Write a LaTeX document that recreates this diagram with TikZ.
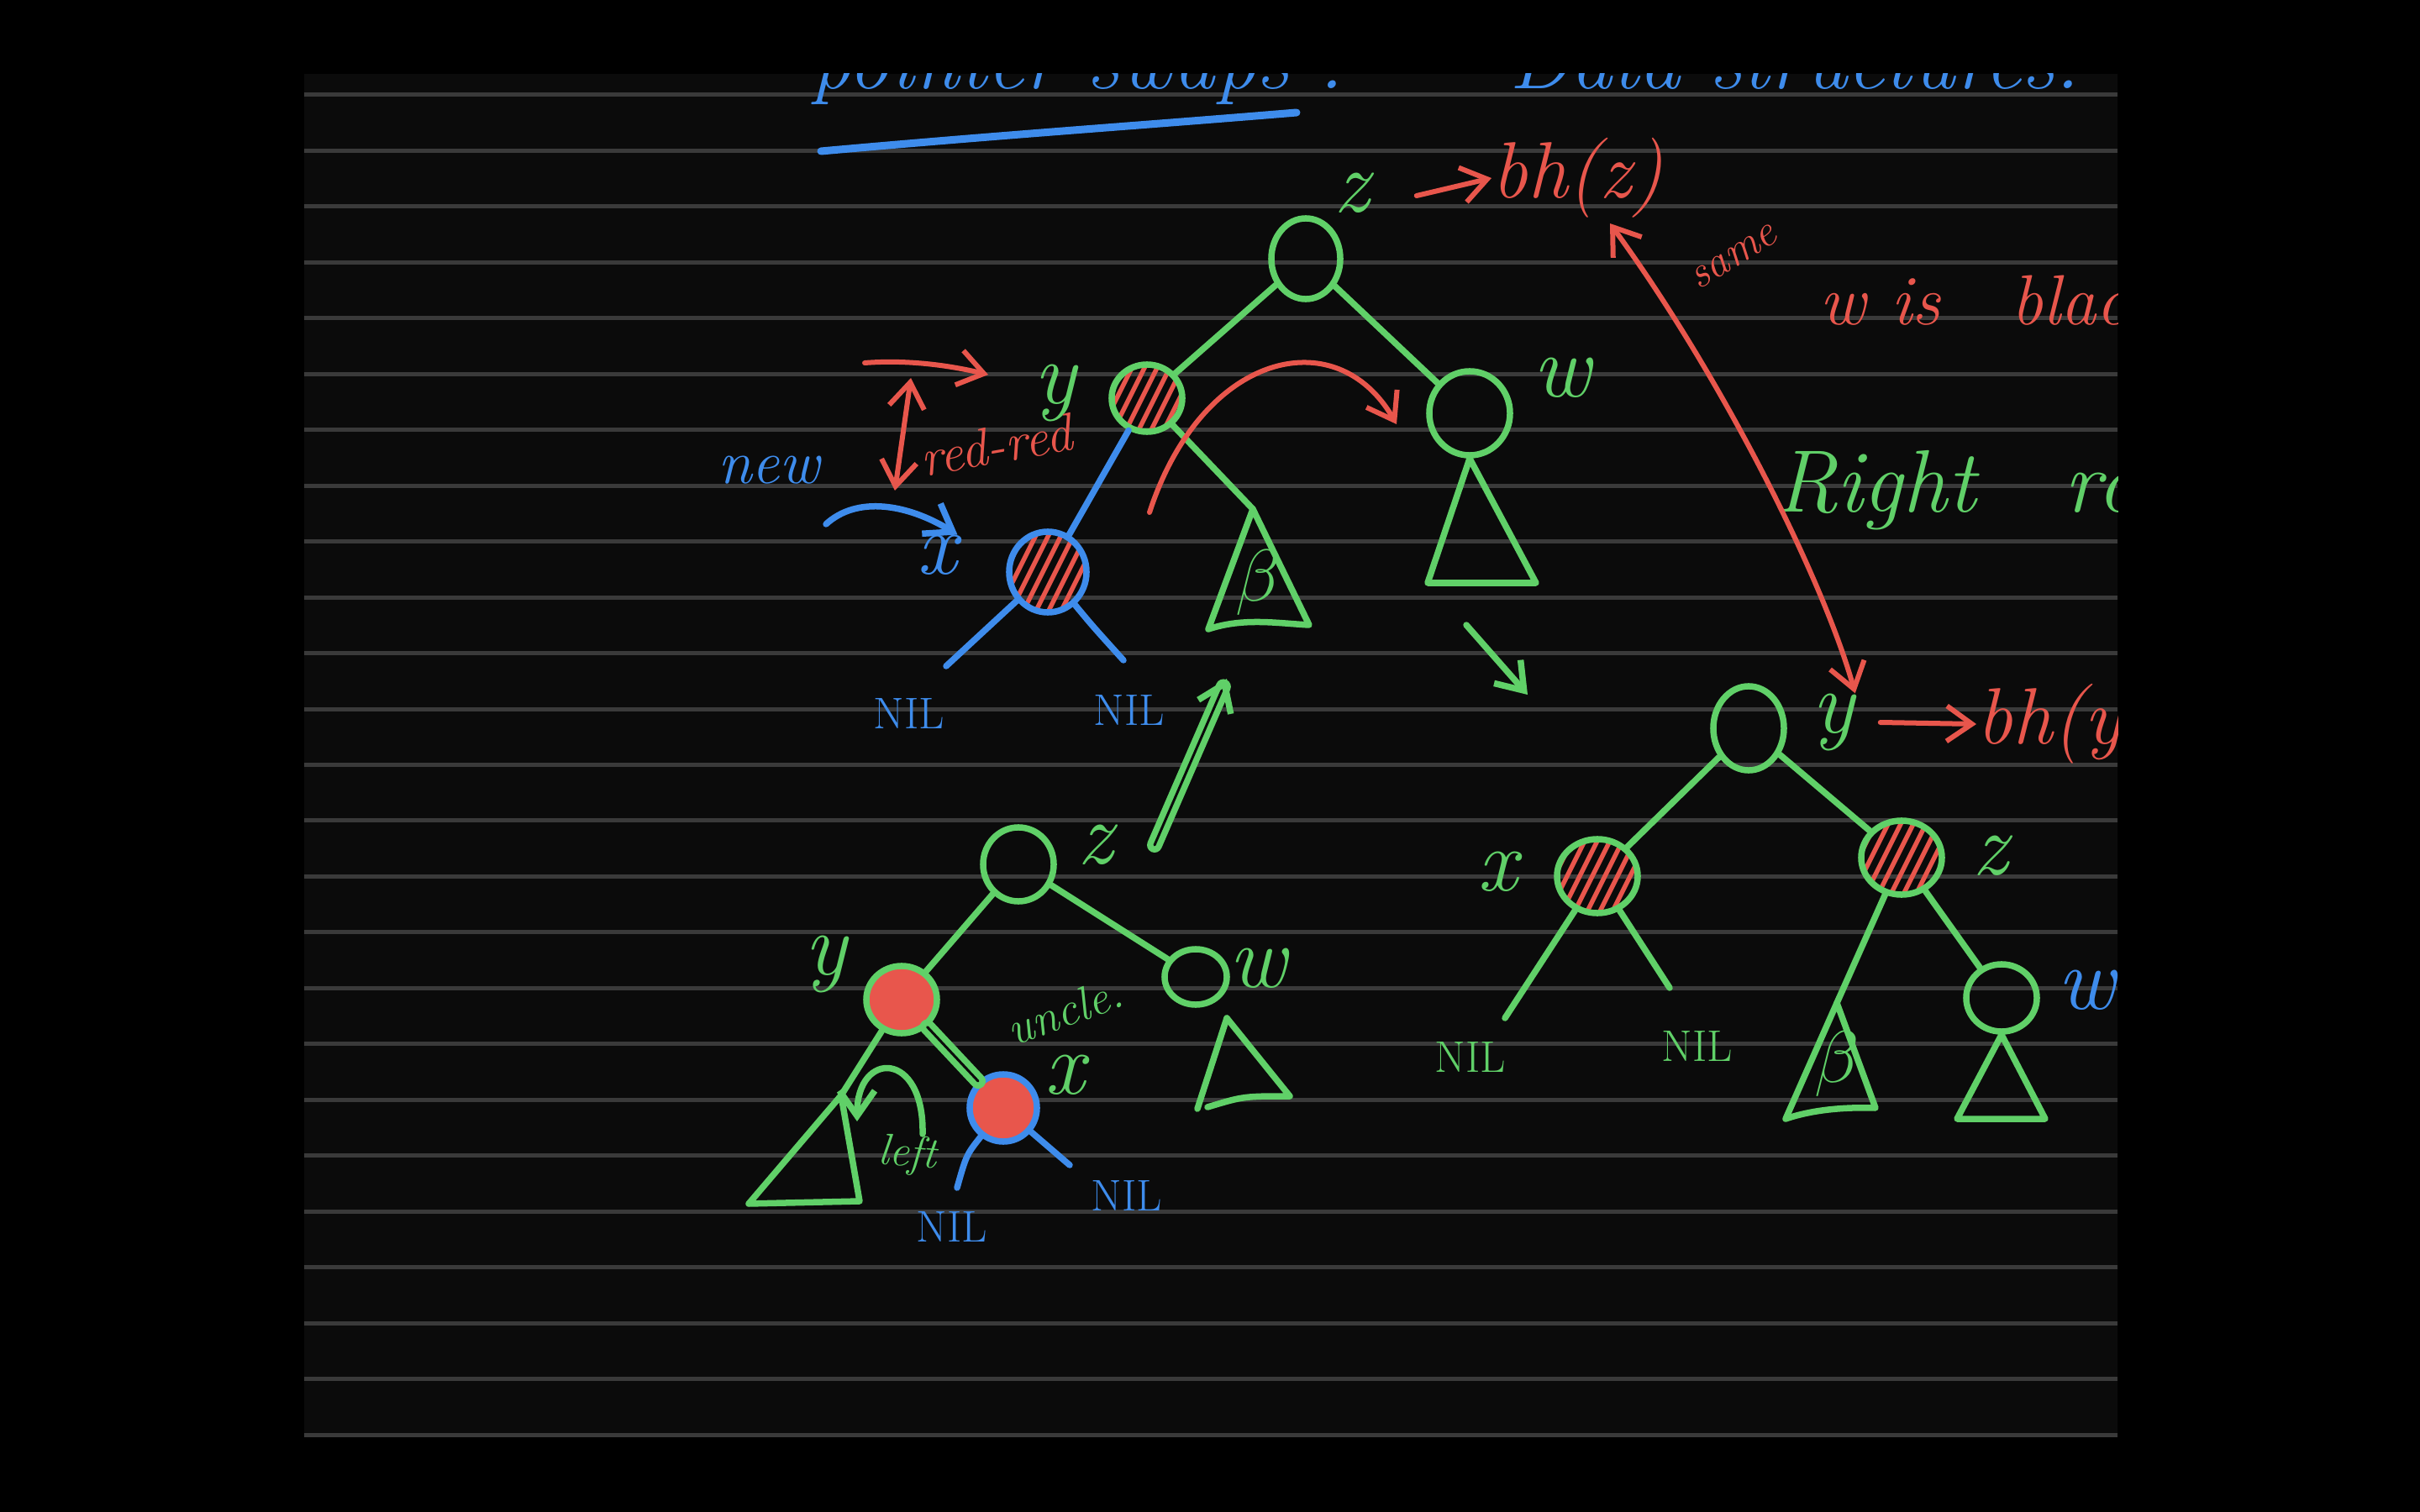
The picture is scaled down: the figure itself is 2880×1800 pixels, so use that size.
\documentclass[tikz,border=0pt]{standalone}
\usetikzlibrary{shapes.geometric,arrows.meta}
\definecolor{hwgreen}{RGB}{96,208,104}
\definecolor{hwred}{RGB}{232,86,76}
\definecolor{hwblue}{RGB}{62,140,236}
\definecolor{pagebg}{RGB}{11,11,11}
\definecolor{ruleline}{RGB}{58,58,58}
\tikzset{
 pen/.style={line width=0.075cm,line cap=round,line join=round},
 gline/.style={pen,draw=hwgreen},
 rline/.style={pen,draw=hwred,line width=0.06cm},
 bline/.style={pen,draw=hwblue},
 arr/.style={-{Straight Barb[length=0.3cm,width=0.42cm]}},
 darr/.style={{Straight Barb[length=0.3cm,width=0.42cm]}-{Straight Barb[length=0.3cm,width=0.42cm]}},
 tnode/.style={ellipse,pen,draw=hwgreen,inner sep=0pt},
 hatched/.style={path picture={
   \coordinate (hc) at (path picture bounding box.center);
   \foreach \k in {-66,-51,...,66}{\draw[draw=hwred,line width=0.055cm] (hc) ++(\k+30,-60) -- ++(-60,120);}
 }},
 lbl/.style={inner sep=0pt,font=\fontsize{30}{30}\selectfont\itshape},
 nil/.style={inner sep=0pt,font=\fontsize{15}{15}\selectfont},
 note/.style={inner sep=0pt,font=\fontsize{#1}{#1}\selectfont\itshape},
}
\begin{document}
\begin{tikzpicture}[x=0.01cm,y=-0.01cm]
\useasboundingbox (0,0) rectangle (2880,1800);
\fill[black] (0,0) rectangle (2880,1800);
\fill[pagebg] (362,88) rectangle (2520,1710);
\foreach \i in {0,...,24}{\draw[ruleline,line width=0.05cm] (362,{113+\i*66.46}) -- (2520,{113+\i*66.46});}
\begin{scope}
\clip (362,88) rectangle (2520,1710);
% title (cut off by the page top)
\node[anchor=base west,text=hwblue,note=28] (title1) at (964,106) {pointer swaps :};
\node[anchor=base west,text=hwblue,note=28] (title2) at (1796,106) {Data structures.};
\draw[bline,line width=0.09cm] (977,180) .. controls (1200,160) and (1350,150) .. (1543,134);

% ===== tree 1 =====
\node[tnode,minimum width=0.82cm,minimum height=0.96cm] (z1) at (1554,308) {};
\node[tnode,hatched,minimum width=0.84cm,minimum height=0.8cm] (y1) at (1365,474) {};
\node[tnode,minimum width=0.96cm,minimum height=1.0cm] (w1) at (1749,492) {};
\node[tnode,draw=hwblue,hatched,minimum width=0.92cm,minimum height=0.96cm] (x1) at (1247,681) {};
\node[lbl,text=hwgreen] (z1l) at (1609,230) {z};
\node[lbl,text=hwgreen] (y1l) at (1256,468) {y};
\node[lbl,text=hwgreen] (w1l) at (1859,450) {w};
\node[lbl,text=hwblue] (x1l) at (1115,661) {x};
\node[note=21,text=hwblue] (new) at (915,560) {new};
\draw[gline] (z1) -- (y1);
\draw[gline] (z1) -- (w1);
\draw[bline] (y1) -- (x1);
\coordinate (b1a) at (1491,606);
\draw[gline] (y1) -- (b1a);
\draw[gline] (b1a) -- (1438,749) .. controls (1480,735) and (1520,742) .. (1558,744) -- cycle;
\node[note=24,text=hwgreen] (b1l) at (1497,694) {$\beta$};
\draw[gline] (w1.south) -- (1699,694) -- (1828,694) -- cycle;
\coordinate (n1a) at (1126,793);
\coordinate (n1b) at (1337,786);
\draw[bline] (x1) -- (n1a);
\draw[bline] (x1) .. controls (1300,745) .. (n1b);
\node[nil,text=hwblue] (nil1a) at (1082,849) {NIL};
\node[nil,text=hwblue] (nil1b) at (1344,845) {NIL};
% annotations tree 1
\coordinate (ra1) at (1029,432);
\coordinate (ra2) at (1176,446);
\draw[rline,arr] (ra1) .. controls (1080,428) and (1130,435) .. (ra2);
\coordinate (rd1) at (1084,450);
\coordinate (rd2) at (1065,584);
\draw[rline,darr] (rd1) -- (rd2);
\node[note=18,text=hwred,rotate=10] (redred) at (1185,530) {red-red};
\coordinate (na1) at (983,624);
\draw[bline,arr] (na1) .. controls (1020,590) and (1080,600) .. (x1l.north east);
\coordinate (rc1) at (1368,610);
\draw[rline,arr] (rc1) .. controls (1430,420) and (1590,380) .. (1662,505);
\node[note=27,text=hwred,anchor=west] (bhz) at (1775,212) {bh(z)};
\draw[rline,arr] (z1l.east) ++(55,3) coordinate (bz0) (bz0) -- (bhz.west);

% ===== arrows between trees =====
\coordinate (ga1) at (1745,744);
\coordinate (ga2) at (1818,827);
\draw[gline,arr] (ga1) -- (ga2);
\coordinate (gu1) at (1374,1006);
\coordinate (gu2) at (1460,808);
\draw[gline,arr,double=pagebg,double distance=0.03cm] (gu1) -- (gu2);

% ===== right notes =====
\node[note=24,text=hwred,anchor=west] (wblack) at (2165,358) {w is\quad black};
\node[note=15,text=hwred,rotate=32] (same) at (2064,306) {same};
\node[note=30,text=hwgreen,anchor=west] (rrot) at (2112,584) {Right\quad rotation};

% ===== tree 3 (bottom right) =====
\node[tnode,minimum width=0.84cm,minimum height=1.0cm] (y3) at (2081,867) {};
\node[tnode,hatched,minimum width=0.96cm,minimum height=0.88cm] (x3) at (1901,1043) {};
\node[tnode,hatched,minimum width=0.96cm,minimum height=0.88cm] (z3) at (2263,1021) {};
\node[tnode,minimum width=0.84cm,minimum height=0.8cm] (w3) at (2382,1188) {};
\node[lbl,text=hwgreen] (y3l) at (2182,860) {y};
\node[lbl,text=hwgreen] (x3l) at (1782,1038) {x};
\node[lbl,text=hwgreen] (z3l) at (2369,1019) {z};
\node[lbl,text=hwblue] (w3l) at (2483,1179) {w};
\node[note=27,text=hwred,anchor=west] (bhy) at (2352,862) {bh(y)};
\draw[rline,arr] (y3l.east) ++(30,0) coordinate (by0) (by0) -- (bhy.west);
\draw[rline,darr] (y3l.north east) .. controls (2170,690) and (2050,450) .. (1916,266);
\draw[gline] (y3) -- (x3);
\draw[gline] (y3) -- (z3);
\coordinate (n3a) at (1791,1212);
\coordinate (n3b) at (1987,1176);
\draw[gline] (x3) -- (n3a);
\draw[gline] (x3) -- (n3b);
\node[nil,text=hwgreen] (nil3a) at (1750,1258) {NIL};
\node[nil,text=hwgreen] (nil3b) at (2020,1245) {NIL};
\coordinate (b3a) at (2186,1194);
\draw[gline] (z3) -- (b3a);
\draw[gline] (b3a) -- (2125,1332) .. controls (2160,1320) and (2200,1318) .. (2232,1319) -- cycle;
\node[note=24,text=hwgreen] (b3l) at (2186,1267) {$\beta$};
\draw[gline] (z3) -- (w3);
\draw[gline] (w3.south) -- (2329,1332) -- (2434,1332) -- cycle;

% ===== tree 2 (bottom left) =====
\node[tnode,minimum width=0.84cm,minimum height=0.88cm] (z2) at (1212,1029) {};
\node[tnode,fill=hwred,minimum width=0.84cm,minimum height=0.8cm] (y2) at (1073,1190) {};
\node[tnode,minimum width=0.74cm,minimum height=0.66cm] (w2) at (1423,1163) {};
\node[tnode,draw=hwblue,fill=hwred,minimum width=0.8cm,minimum height=0.8cm] (x2) at (1194,1319) {};
\node[lbl,text=hwgreen] (z2l) at (1304,1006) {z};
\node[lbl,text=hwgreen] (y2l) at (983,1148) {y};
\node[lbl,text=hwgreen] (w2l) at (1497,1153) {w};
\node[lbl,text=hwgreen] (x2l) at (1267,1280) {x};
\node[note=16,text=hwgreen,rotate=20] (uncle) at (1267,1203) {uncle.};
\draw[gline] (z2) -- (y2);
\draw[gline] (z2) -- (w2);
\draw[gline,double=pagebg,double distance=0.03cm] (y2) -- (x2);
\coordinate (t2a) at (1001,1304);
\draw[gline] (y2) -- (t2a);
\draw[gline] (t2a) -- (891,1433) -- (1023,1430) -- cycle;
\coordinate (t2w) at (1460,1212);
\draw[gline] (t2w) -- (1425,1320);
\draw[gline] (1437,1318) .. controls (1480,1305) .. (1535,1305) -- (t2w);
\coordinate (la1) at (1098,1350);
\coordinate (la2) at (1020,1335);
\draw[gline,arr] (la1) .. controls (1100,1250) and (1020,1250) .. (la2);
\node[note=15,text=hwgreen,rotate=-5] (left) at (1080,1375) {left};
\coordinate (n2a) at (1139,1414);
\coordinate (n2b) at (1273,1387);
\draw[bline] (x2) .. controls (1150,1375) .. (n2a);
\draw[bline] (x2) -- (n2b);
\node[nil,text=hwblue] (nil2a) at (1133,1460) {NIL};
\node[nil,text=hwblue] (nil2b) at (1341,1423) {NIL};
\end{scope}
\end{tikzpicture}
\end{document}
